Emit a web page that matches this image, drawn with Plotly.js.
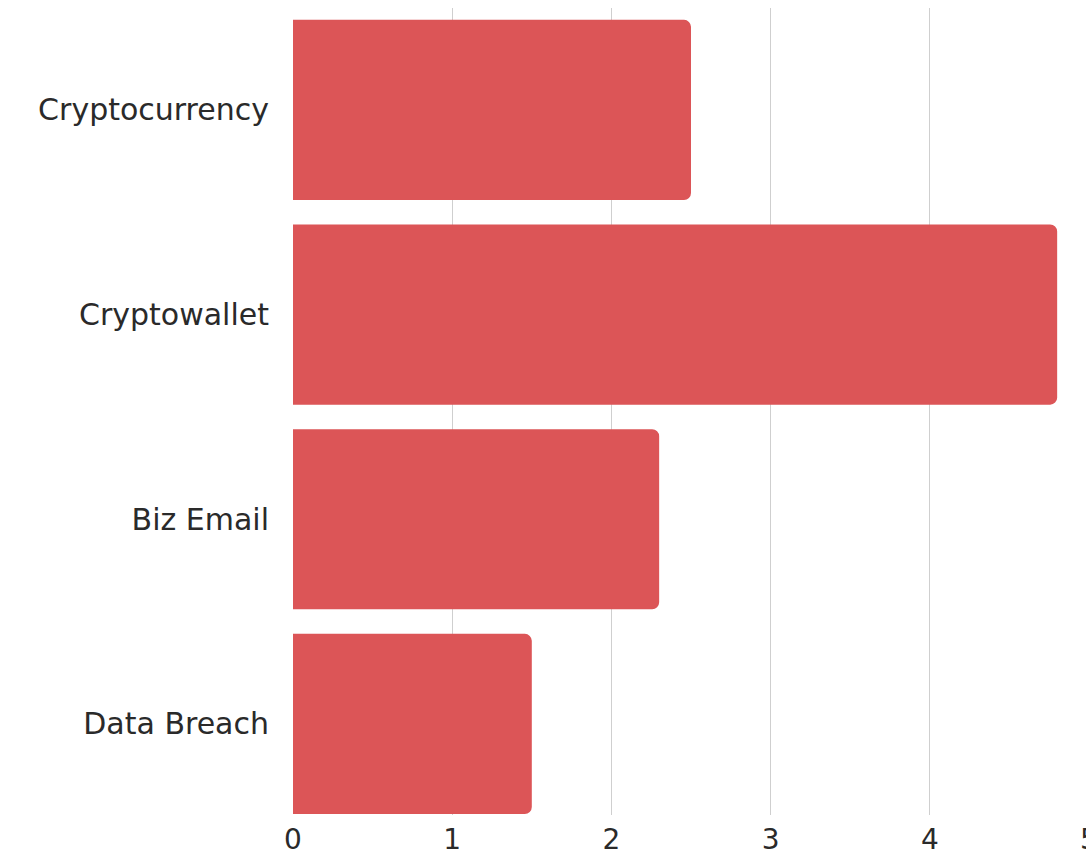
<!DOCTYPE html>
<html>
<head>
<meta charset="utf-8">
<script src="https://cdn.plot.ly/plotly-3.0.1.min.js"></script>
<style>
  html, body { margin: 0; padding: 0; overflow: hidden; background: #ffffff; }
  #chart { width: 1100px; height: 856px; }
</style>
</head>
<body>
<div id="chart"></div>
<script>
const categories = ["Cryptocurrency", "Cryptowallet", "Biz Email", "Data Breach"];
const values = [2.5, 4.8, 2.3, 1.5];
const xTickValues = [0, 1, 2, 3, 4, 5];
const xTickLabels = ["0", "1", "2", "3", "4", "5"];

const trace = {
  type: "bar",
  orientation: "h",
  y: categories,
  x: values,
  marker: { color: "#DC5557", cornerradius: 7, line: { width: 0 } },
  hoverinfo: "x+y"
};

const layout = {
  width: 1100,
  height: 856,
  margin: { l: 293, r: 11, t: 8, b: 41 },
  paper_bgcolor: "#ffffff",
  plot_bgcolor: "#ffffff",
  showlegend: false,
  bargap: 0.12,
  font: { family: "DejaVu Sans, sans-serif", color: "#2a2a2a" },
  xaxis: {
    range: [0, 5],
    tickvals: xTickValues,
    ticktext: xTickLabels,
    showgrid: true,
    gridcolor: "#cfcfcf",
    gridwidth: 1,
    zeroline: false,
    showline: false,
    ticks: "",
    ticklabelstandoff: 5,
    tickfont: { size: 28, family: "DejaVu Sans, sans-serif", color: "#2a2a2a" }
  },
  yaxis: {
    type: "category",
    range: [3.445, -0.498],
    showgrid: false,
    zeroline: false,
    showline: false,
    ticks: "",
    ticklabelstandoff: 23,
    tickfont: { size: 30, family: "DejaVu Sans, sans-serif", color: "#2a2a2a" }
  }
};

Plotly.newPlot("chart", [trace], layout, { displayModeBar: false, staticPlot: true });
</script>
</body>
</html>
